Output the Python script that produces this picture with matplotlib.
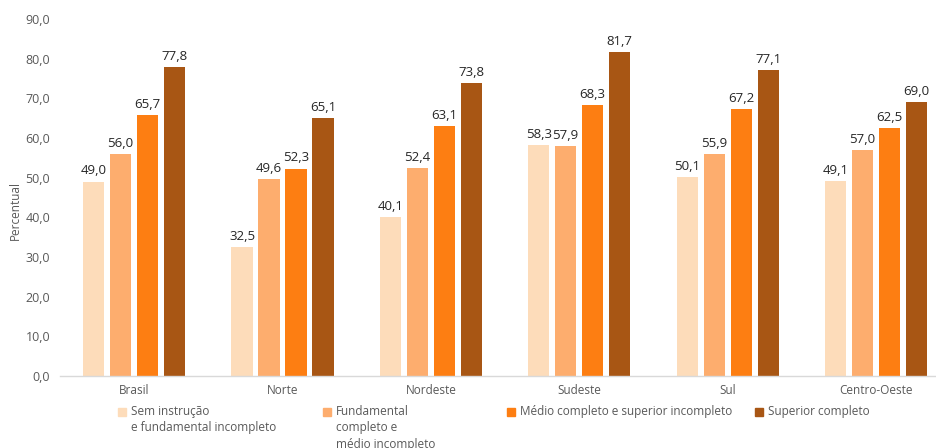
import numpy as np
import matplotlib.pyplot as plt
from matplotlib.patches import Rectangle

plt.rcParams['font.family'] = ['Open Sans', 'DejaVu Sans']

regioes = ['Brasil', 'Norte', 'Nordeste', 'Sudeste', 'Sul', 'Centro-Oeste']
niveis = [
    'Sem instrução\ne fundamental incompleto',
    'Fundamental\ncompleto e\nmédio incompleto',
    'Médio completo e superior incompleto',
    'Superior completo',
]
sem_instrucao = [49.0, 32.5, 40.1, 58.3, 50.1, 49.1]
fundamental = [56.0, 49.6, 52.4, 57.9, 55.9, 57.0]
medio = [65.7, 52.3, 63.1, 68.3, 67.2, 62.5]
superior = [77.8, 65.1, 73.8, 81.7, 77.1, 69.0]
cores = ['#FDDCBA', '#FDAD6E', '#FD7E12', '#A85614']

series = [sem_instrucao, fundamental, medio, superior]
texto = '#595959'

fig = plt.figure(figsize=(9.36, 4.48), dpi=100)
ax = fig.add_axes([60 / 936, 72 / 448, 876 / 936, 357 / 448])

x = np.arange(len(regioes))
largura = 0.142
passo = 0.182
for i, (vals, cor) in enumerate(zip(series, cores)):
    pos = x + (i - 1.5) * passo
    barras = ax.bar(pos, vals, width=largura, color=cor, zorder=2)
    for b, v in zip(barras, vals):
        ax.annotate(f'{v:.1f}'.replace('.', ','),
                    (b.get_x() + b.get_width() / 2, v),
                    xytext=(0, 3), textcoords='offset points',
                    ha='center', va='bottom', fontsize=9.5, color='#262626')

ax.set_xlim(-0.5, 5.405)
ax.set_ylim(0, 90)
ax.set_yticks(np.arange(0, 91, 10))
ax.set_yticklabels([f'{t:.1f}'.replace('.', ',') for t in np.arange(0, 91, 10)])
ax.set_xticks(x)
ax.set_xticklabels(regioes)
ax.tick_params(axis='y', length=0, pad=7, labelsize=9, labelcolor=texto)
ax.tick_params(axis='x', length=0, pad=6, labelsize=8.5, labelcolor=texto)
for s in ['top', 'right', 'left']:
    ax.spines[s].set_visible(False)
ax.spines['bottom'].set_color('#D9D9D9')
ax.spines['bottom'].set_linewidth(1.0)

fig.text(15 / 936, 1 - 210 / 448, 'Percentual', rotation=90, ha='center',
         va='center', fontsize=8.5, color=texto)

# legenda montada à mão: quadrado alinhado à primeira linha do texto
leg_x = [118, 323, 507, 755]
leg_y = 412
for lx, rotulo, cor in zip(leg_x, niveis, cores):
    fig.patches.append(Rectangle((lx / 936, (448 - leg_y - 4) / 448), 8 / 936, 8 / 448,
                                 transform=fig.transFigure, color=cor))
    fig.text((lx + 13) / 936, 1 - (leg_y - 7) / 448, rotulo, ha='left', va='top',
             fontsize=8.5, color=texto, linespacing=1.35)

fig.savefig('out.png', dpi=100)
